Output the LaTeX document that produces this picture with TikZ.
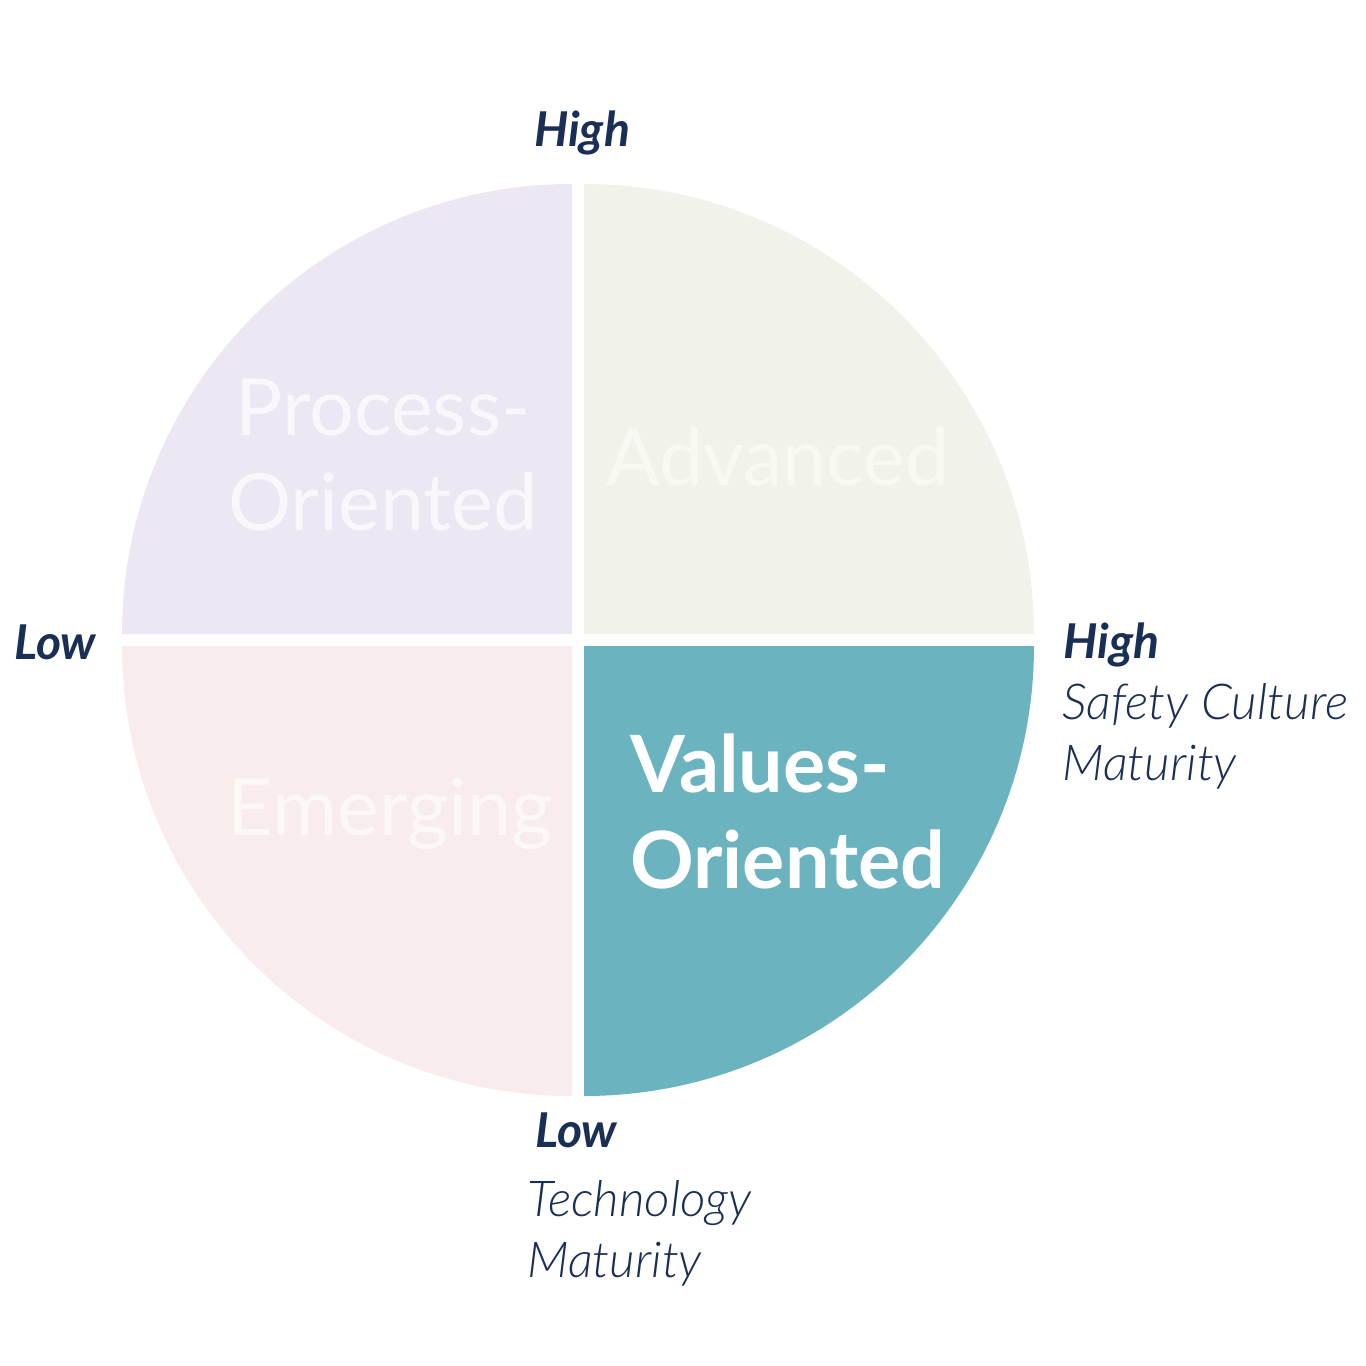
\documentclass[tikz,border=0pt]{standalone}
\usepackage{fontspec}
\setmainfont{Lato}
\newfontfamily\lightlato{Lato Light}
\definecolor{navy}{HTML}{1A2F55}
\definecolor{procfill}{HTML}{ECE7F2}
\definecolor{proctext}{HTML}{FAF6FB}
\definecolor{advfill}{HTML}{F1F3EA}
\definecolor{advtext}{HTML}{F8F9F3}
\definecolor{emfill}{HTML}{F8ECEC}
\definecolor{emtext}{HTML}{FCF8F5}
\definecolor{valfill}{HTML}{6BB3BE}
\tikzset{
  quadlabel/.style={font=\fontsize{79}{95}\selectfont, align=center, anchor=base, inner sep=0pt},
  axislevel/.style={font=\fontsize{48}{60}\selectfont\bfseries\itshape, text=navy, anchor=base west, inner sep=0pt},
  axisname/.style={font=\fontsize{49.5}{61}\selectfont\lightlato\itshape, text=navy, align=left, anchor=base west, inner sep=0pt}
}
\begin{document}
\begin{tikzpicture}[x=1pt,y=-1pt]
\useasboundingbox[fill=white] (0,0) rectangle (1366,1366);
\coordinate (c) at (578,640);

\fill[procfill] ([shift={(-6,-6)}]c) -- ++(-450,0) arc (180:270:450) -- cycle;
\fill[advfill] ([shift={(6,-6)}]c) -- ++(450,0) arc (0:-90:450) -- cycle;
\fill[emfill] ([shift={(-6,6)}]c) -- ++(-450,0) arc (180:90:450) -- cycle;
\fill[valfill] ([shift={(6,6)}]c) -- ++(450,0) arc (0:90:450) -- cycle;

\node[quadlabel, text=proctext] (process) at (383,530) {Process-\\Oriented};
\node[quadlabel, text=advtext] (advanced) at (778,485) {Advanced};
\node[quadlabel, text=emtext] (emerging) at (390,835) {Emerging};
\node[quadlabel, text=white, font=\fontsize{79}{96}\selectfont\bfseries, align=left, anchor=base west] (values) at (630,888) {Values-\\Oriented};

\node[axislevel, anchor=base] (tophigh) at (582,146) {High};
\node[axislevel] (leftlow) at (14,659) {Low};
\node[axislevel] (righthigh) at (1063,658) {High};
\node[axisname] (safety) at (1062,780) {Safety Culture\\Maturity};
\node[axislevel] (bottomlow) at (535,1147) {Low};
\node[axisname] (tech) at (527,1277) {Technology\\Maturity};
\end{tikzpicture}
\end{document}
